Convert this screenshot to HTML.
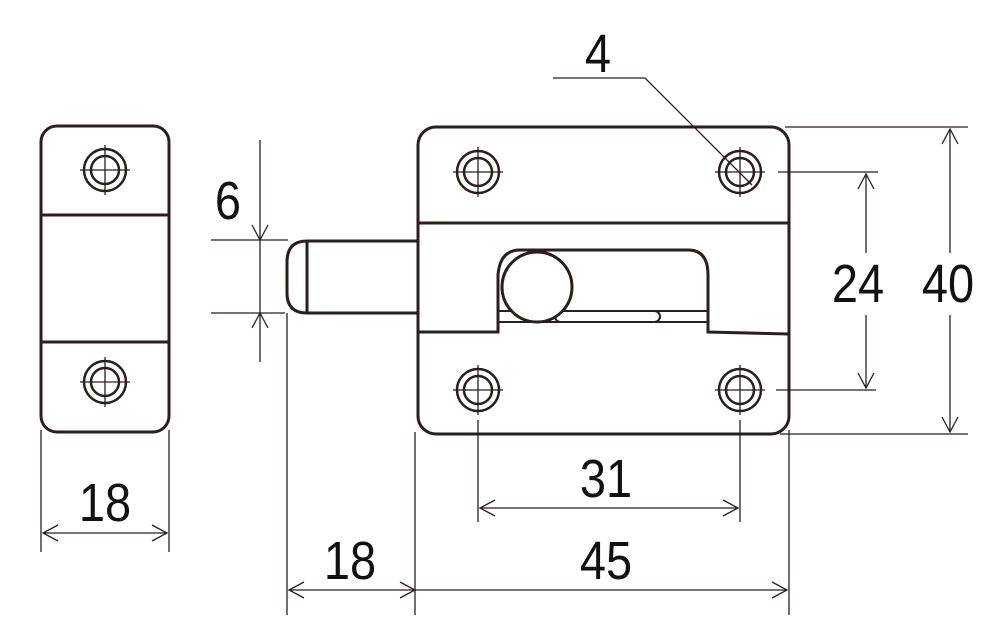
<!DOCTYPE html>
<html><head><meta charset="utf-8"><style>
html,body{margin:0;padding:0;background:#fff;}
svg{display:block}
text{font-family:"Liberation Sans",sans-serif;font-size:54px;fill:#111;}
</style></head><body>
<svg width="1000" height="642" viewBox="0 0 1000 642" xmlns="http://www.w3.org/2000/svg">
<defs>
<g id="hole">
<circle r="21" fill="none" stroke="#2a1f1c" stroke-width="2.5"/>
<circle r="14" fill="none" stroke="#2a1f1c" stroke-width="2.5"/>
<line x1="-25" y1="0" x2="25" y2="0" stroke="#2a1f1c" stroke-width="1.3"/>
<line x1="0" y1="-25" x2="0" y2="25" stroke="#2a1f1c" stroke-width="1.3"/>
</g>
</defs>
<g fill="none" stroke="#2a1f1c" stroke-width="3">
<!-- left piece -->
<rect x="41" y="126" width="128" height="306" rx="16"/>
<line x1="41" y1="215" x2="169" y2="215"/>
<line x1="41" y1="342" x2="169" y2="342"/>
<!-- bolt -->
<path d="M417 241 L307 241 Q287 241 287 262 L287 293 Q287 313 307 313 L417 313"/>
<line x1="307" y1="241" x2="307" y2="313"/>
<!-- main body -->
<rect x="418" y="127" width="371" height="307" rx="18"/>
<line x1="418" y1="223" x2="789" y2="223"/>
<path d="M418 332 L498 332 L498 275 Q500 250 520 250 L688 250 Q708 250 708 275 L708 332 L789 334"/>
<line x1="498" y1="311" x2="708" y2="311" stroke-width="2"/>
<line x1="498" y1="322" x2="708" y2="322" stroke-width="2"/>
<rect x="555" y="311" width="105" height="11" rx="5.5" fill="#fff" stroke-width="2"/>
<circle cx="537" cy="287" r="35" fill="#fff"/>
</g>
<use href="#hole" x="105" y="170"/>
<use href="#hole" x="105" y="382"/>
<use href="#hole" x="478" y="172"/>
<use href="#hole" x="740" y="172"/>
<use href="#hole" x="478" y="390"/>
<use href="#hole" x="740" y="390"/>
<!-- dimension lines -->
<g fill="none" stroke="#2a1f1c" stroke-width="1.3">
<!-- 4 leader -->
<polyline points="553,78 645,78 752,185"/>
<!-- 40 -->
<line x1="785" y1="127" x2="968" y2="127"/>
<line x1="780" y1="434" x2="968" y2="434"/>
<line x1="950" y1="129" x2="950" y2="253"/>
<line x1="950" y1="315" x2="950" y2="432"/>
<polyline points="942,144 950,129 958,144"/>
<polyline points="942,417 950,432 958,417"/>
<!-- 24 -->
<line x1="778" y1="172" x2="878" y2="172"/>
<line x1="776" y1="390" x2="876" y2="390"/>
<line x1="866" y1="174" x2="866" y2="253"/>
<line x1="866" y1="315" x2="866" y2="388"/>
<polyline points="858,189 866,174 874,189"/>
<polyline points="858,373 866,388 874,373"/>
<!-- 31 -->
<line x1="478" y1="420" x2="478" y2="522"/>
<line x1="740" y1="420" x2="740" y2="522"/>
<line x1="480" y1="508" x2="738" y2="508"/>
<polyline points="495,500 480,508 495,516"/>
<polyline points="723,500 738,508 723,516"/>
<!-- 45 & 18 -->
<line x1="415" y1="432" x2="415" y2="615"/>
<line x1="789" y1="430" x2="789" y2="615"/>
<line x1="287" y1="313" x2="287" y2="615"/>
<line x1="289" y1="590" x2="787" y2="590"/>
<polyline points="304,582 289,590 304,598"/>
<polyline points="400,582 415,590 400,598 M430,582 415,590 430,598"/>
<polyline points="772,582 787,590 772,598"/>
<!-- left 18 -->
<line x1="41" y1="430" x2="41" y2="552"/>
<line x1="169" y1="430" x2="169" y2="552"/>
<line x1="43" y1="533" x2="167" y2="533"/>
<polyline points="58,525 43,533 58,541"/>
<polyline points="152,525 167,533 152,541"/>
<!-- 6 -->
<line x1="211" y1="240" x2="288" y2="240"/>
<line x1="211" y1="313" x2="285" y2="313"/>
<line x1="260" y1="140" x2="260" y2="362"/>
<polyline points="252,225 260,240 268,225"/>
<polyline points="252,328 260,313 268,328"/>
</g>
<g text-anchor="middle">
<text transform="translate(598,72) scale(0.87,1)">4</text>
<text transform="translate(228,219) scale(0.87,1)">6</text>
<text transform="translate(858,302) scale(0.87,1)">24</text>
<text transform="translate(948,302) scale(0.87,1)">40</text>
<text transform="translate(606,497) scale(0.87,1)">31</text>
<text transform="translate(606,579) scale(0.87,1)">45</text>
<text transform="translate(350,579) scale(0.87,1)">18</text>
<text transform="translate(105,521) scale(0.87,1)">18</text>
</g>
</svg>
</body></html>
